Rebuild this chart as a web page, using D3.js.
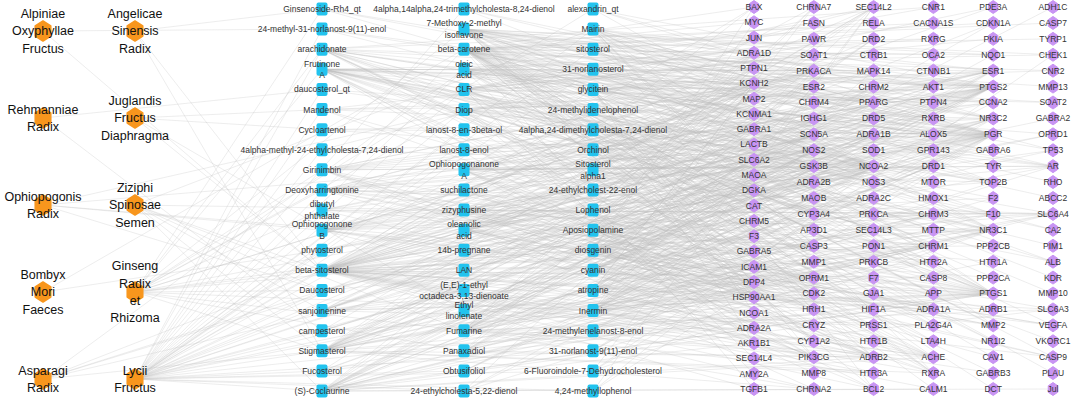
<!DOCTYPE html>
<html>
<head>
<meta charset="utf-8">
<script src="https://cdn.jsdelivr.net/npm/d3@7"></script>
<style>
  body { margin: 0; background: #fff; }
  text { font-family: Arial, "Liberation Sans", sans-serif; }
</style>
</head>
<body>
<div id="chart"></div>
<script>
// herbs, two columns
const herbsLeft = ["Alpiniae Oxyphyllae Fructus", "Rehmanniae Radix", "Ophiopogonis Radix", "Bombyx Mori Faeces", "Asparagi Radix"];
const herbsRight = ["Angelicae Sinensis Radix", "Juglandis Fructus Diaphragma", "Ziziphi Spinosae Semen", "Ginseng Radix et Rhizoma", "Lycii Fructus"];

// compounds, three columns
const compounds1 = ["Ginsenoside-Rh4_qt", "24-methyl-31-norlanost-9(11)-enol", "arachidonate", "Frutinone A", "daucosterol_qt",
  "Mandenol", "Cycloartenol", "4alpha-methyl-24-ethylcholesta-7,24-dienol", "Girinimbin", "Deoxyharringtonine",
  "dibutyl phthalate", "Ophiopogonone B", "phytosterol", "beta-sitosterol", "Daucosterol",
  "sanjoinenine", "campesterol", "Stigmasterol", "Fucosterol", "(S)-Coclaurine"];
const compounds2 = ["4alpha,14alpha,24-trimethylcholesta-8,24-dienol", "7-Methoxy-2-methyl isoflavone", "beta-carotene", "oleic acid", "CLR",
  "Diop", "lanost-8-en-3beta-ol", "lanost-8-enol", "Ophiopogonanone A", "suchilactone",
  "zizyphusine", "oleanolic acid", "14b-pregnane", "LAN", "(E,E)-1-ethyl octadeca-3,13-dienoate",
  "Ethyl linolenate", "Fumarine", "Panaxadiol", "Obtusifoliol", "24-ethylcholesta-5,22-dienol"];
const compounds3 = ["alexandrin_qt", "Mairin", "sitosterol", "31-norlanosterol", "glycitein",
  "24-methylidenelophenol", "4alpha,24-dimethylcholesta-7,24-dienol", "Orchinol", "Sitosterol alpha1", "24-ethylcholest-22-enol",
  "Lophenol", "Aposiopolamine", "diosgenin", "cyanin", "atropine",
  "Inermin", "24-methylenelanost-8-enol", "31-norlanost-9(11)-enol", "6-Fluoroindole-7-Dehydrocholesterol", "4,24-methyllophenol"];

// targets, six columns
const targets1 = ["BAX", "MYC", "JUN", "ADRA1D", "PTPN1", "KCNH2", "MAP2", "KCNMA1", "GABRA1", "LACTB", "SLC6A2", "MAOA", "DGKA",
  "CAT", "CHRM5", "F3", "GABRA5", "ICAM1", "DPP4", "HSP90AA1", "NCOA1", "ADRA2A", "AKR1B1", "SEC14L4", "AMY2A", "TGFB1"];
const targets2 = ["CHRNA7", "FASN", "PAWR", "SOAT1", "PRKACA", "ESR2", "CHRM4", "IGHG1", "SCN5A", "NOS2", "GSK3B", "ADRA2B",
  "MAOB", "CYP3A4", "AP3D1", "CASP3", "MMP1", "OPRM1", "CDK2", "HRH1", "CRYZ", "CYP1A2", "PIK3CG", "MMP8", "CHRNA2"];
const targets3 = ["SEC14L2", "RELA", "DRD2", "CTRB1", "MAPK14", "CHRM2", "PPARG", "DRD5", "ADRA1B", "SOD1", "NCOA2", "NOS3",
  "ADRA2C", "PRKCA", "SEC14L3", "PON1", "PRKCB", "F7", "GJA1", "HIF1A", "PRSS1", "HTR1B", "ADRB2", "HTR3A", "BCL2"];
const targets4 = ["CNR1", "CACNA1S", "RXRG", "OCA2", "CTNNB1", "AKT1", "PTPN4", "RXRB", "ALOX5", "GPR143", "DRD1", "MTOR",
  "HMOX1", "CHRM3", "MTTP", "CHRM1", "HTR2A", "CASP8", "APP", "ADRA1A", "PLA2G4A", "LTA4H", "ACHE", "RXRA", "CALM1"];
const targets5 = ["PDE3A", "CDKN1A", "PKIA", "NQO1", "ESR1", "PTGS2", "CCNA2", "NR3C2", "PGR", "GABRA6", "TYR", "TOP2B",
  "F2", "F10", "NR3C1", "PPP2CB", "HTR1A", "PPP2CA", "PTGS1", "ADRB1", "MMP2", "NR1I2", "CAV1", "GABRB3", "DCT"];
const targets6 = ["ADH1C", "CASP7", "TYRP1", "CHEK1", "CNR2", "MMP13", "SOAT2", "GABRA2", "OPRD1", "TP53", "AR", "RHO",
  "ABCC2", "SLC6A4", "CA2", "PIM1", "ALB", "KDR", "MMP10", "SLC6A3", "VEGFA", "VKORC1", "CASP9", "PLAU", "Jul"];

// herb -> compound links
const herbCompounds = [
  ["Alpiniae Oxyphyllae Fructus", "24-methyl-31-norlanost-9(11)-enol|beta-sitosterol"],
  ["Angelicae Sinensis Radix", "Ginsenoside-Rh4_qt|Stigmasterol|beta-sitosterol"],
  ["Rehmanniae Radix", "daucosterol_qt|campesterol"],
  ["Juglandis Fructus Diaphragma", "Mandenol|Cycloartenol|beta-sitosterol|Ethyl linolenate"],
  ["Ophiopogonis Radix", "Ophiopogonone B|Ophiopogonanone A|Daucosterol|diosgenin|Diop"],
  ["Ziziphi Spinosae Semen", "zizyphusine|sanjoinenine|Mairin|(S)-Coclaurine|Daucosterol|Stigmasterol|beta-sitosterol|Fumarine"],
  ["Bombyx Mori Faeces", "beta-carotene|phytosterol"],
  ["Ginseng Radix et Rhizoma", "Ginsenoside-Rh4_qt|Frutinone A|Girinimbin|Deoxyharringtonine|dibutyl phthalate|beta-sitosterol|Daucosterol|Stigmasterol|Panaxadiol|Fumarine|suchilactone|Inermin|alexandrin_qt|Aposiopolamine|diosgenin|Diop|arachidonate|oleanolic acid|7-Methoxy-2-methyl isoflavone|Orchinol"],
  ["Asparagi Radix", "diosgenin|beta-sitosterol|Stigmasterol|Daucosterol|14b-pregnane|oleic acid"],
  ["Lycii Fructus", "beta-sitosterol|Fucosterol|24-ethylcholest-22-enol|cyanin|atropine|Mandenol|Ethyl linolenate|Cycloartenol|lanost-8-en-3beta-ol|glycitein|Lophenol|sitosterol|Obtusifoliol|campesterol|Daucosterol|24-methylidenelophenol|31-norlanosterol|Stigmasterol|4alpha,14alpha,24-trimethylcholesta-8,24-dienol|4alpha-methyl-24-ethylcholesta-7,24-dienol|24-methyl-31-norlanost-9(11)-enol|24-ethylcholesta-5,22-dienol|LAN|Sitosterol alpha1|14b-pregnane|4,24-methyllophenol|31-norlanost-9(11)-enol|24-methylenelanost-8-enol|4alpha,24-dimethylcholesta-7,24-dienol|6-Fluoroindole-7-Dehydrocholesterol|Aposiopolamine|CLR|lanost-8-enol|beta-carotene|Mairin|(E,E)-1-ethyl octadeca-3,13-dienoate|arachidonate|oleic acid|daucosterol_qt|(S)-Coclaurine|Diop|phytosterol"]
];

// compound -> target links
const compoundTargets = [
  ["Ginsenoside-Rh4_qt", "PGR NCOA2 NR3C2"],
  ["24-methyl-31-norlanost-9(11)-enol", "PGR NCOA2 NR3C2"],
  ["arachidonate", "PTGS2 PTGS1 ALOX5 PLA2G4A LTA4H CNR1 CNR2 PPARG RXRA GABRA6 GABRB3 CACNA1S KCNMA1 HMOX1 CYP3A4 CHRM1 OPRM1 NOS3 ALB"],
  ["Frutinone A", "PTGS2 PTGS1 NOS2 ESR1 AR PGR PPARG KCNH2 NCOA2 ESR2 GSK3B CDK2 PIK3CG PRKACA CHEK1 CASP3 HSP90AA1 MAPK14 CCNA2 PIM1 TOP2B DPP4 F10 F2 ADRB2 CHRM1 NOS3 ACHE HTR2A CA2"],
  ["daucosterol_qt", "PGR NCOA2"],
  ["Mandenol", "PTGS2 PTGS1 PPARG ALOX5 SOAT1 PLA2G4A"],
  ["Cycloartenol", "PGR NCOA2 NR3C2"],
  ["4alpha-methyl-24-ethylcholesta-7,24-dienol", "PGR NCOA2 SEC14L2"],
  ["Girinimbin", "PTGS2 PTGS1 NOS2 KCNH2 SCN5A ESR1 PRKACA GSK3B CDK2 PIK3CG HSP90AA1 CCNA2 ADRB2 AR ACHE"],
  ["Deoxyharringtonine", "PTGS2 NOS2 KCNH2 SCN5A ADRA1A ADRA1B CHRM1 CHRM3 SLC6A4 SLC6A2 DRD1 HTR2A OPRM1 PRKACA ADRA2C CHRM2 HTR1B"],
  ["dibutyl phthalate", "PTGS2 PGR ESR1 NR3C1 CASP3 SLC6A4 ACHE"],
  ["Ophiopogonone B", "PTGS2 PTGS1 NOS2 ESR1 ESR2 AR PGR PPARG NCOA2 GSK3B CDK2 PIK3CG PRKACA HSP90AA1 CCNA2 TOP2B DPP4 F10 F2"],
  ["phytosterol", "PGR NCOA2 PTGS2 NR3C2"],
  ["beta-sitosterol", "BAX JUN ADRA1D PTPN1 KCNH2 MAP2 GABRA1 SLC6A2 MAOA CHRM5 F3 ICAM1 DPP4 HSP90AA1 NCOA1 ADRA2A TGFB1 CHRNA7 PRKACA ESR2 CHRM4 SCN5A NOS2 ADRA2B MAOB CASP3 OPRM1 HRH1 PIK3CG CHRNA2 DRD2 CHRM2 PPARG DRD5 ADRA1B PRKCA BCL2 ADRB2 HTR3A AKT1 CHRM3 CHRM1 HTR2A CASP8 ADRA1A CALM1 PTGS2 PGR PTGS1 ADRB1 GABRA6 GABRA2 OPRD1 CASP9 SLC6A4 SLC6A3 RXRA ACHE GABRB3 GABRA5"],
  ["Daucosterol", "PGR NCOA2 PTGS2 NR3C1"],
  ["sanjoinenine", "PTGS2 NOS2 PTGS1 KCNH2 ESR1 PRKACA CHRM1 ADRA1B SCN5A PRSS1 F10 GSK3B DPP4 HSP90AA1"],
  ["campesterol", "PGR NCOA2 PTGS1 NR3C2 SEC14L2"],
  ["Stigmasterol", "ADRA1D MAOA LACTB PRKACA ESR2 CHRM4 SCN5A ADRA2B MAOB CHRNA2 NCOA2 PGR NR3C2 NR3C1 ADRA2C ADRB2 PTGS1 PTGS2 KCNH2 ADRA2A CHRM2 CHRM1 CHRM3 HTR3A GABRA1 GABRA5 RXRA PON1 PRKCB"],
  ["Fucosterol", "PGR NCOA2 NR3C1 PTGS1 SOAT1"],
  ["(S)-Coclaurine", "PTGS2 PTGS1 NOS2 KCNH2 SCN5A ADRA1A ADRA1B ADRA1D ADRB2 CHRM1 CHRM2 CHRM3 CHRM5 SLC6A2 SLC6A4 SLC6A3 DRD1 DRD2 HTR2A HTR1A OPRM1 ACHE MAOA MAOB CALM1 Jul"],
  ["4alpha,14alpha,24-trimethylcholesta-8,24-dienol", "PGR NCOA2 NR3C2"],
  ["7-Methoxy-2-methyl isoflavone", "PTGS2 PTGS1 NOS2 ESR1 ESR2 AR PGR PPARG NCOA2 GSK3B CDK2 PIK3CG PRKACA CHEK1 HSP90AA1 MAPK14 CCNA2 DPP4 F10 KCNH2 ADRB2 SCN5A CHRM1 ACHE CYP3A4 CYP1A2 TOP2B MMP1 RXRA AKT1 NQO1"],
  ["beta-carotene", "PTGS2 PTGS1 NOS2 CASP3 BAX BCL2 TP53 MYC CDKN1A JUN RELA PPARG RXRA RXRB RXRG CAT SOD1 HMOX1 NQO1 VEGFA MMP2 MMP1 MMP13 MMP10 ICAM1 TGFB1 HIF1A CASP9 CASP7 CASP8 AKT1 CTNNB1 CYP1A2 ALB KDR PLAU GJA1 IGHG1 CALM1 NR3C1 TYR DCT TYRP1 OCA2 GPR143 RHO MTOR PPP2CA CAV1 APP"],
  ["oleic acid", "PTGS2 PTGS1 PPARG FASN SOAT1 SOAT2 ALOX5 PLA2G4A LTA4H CA2 NR1I2 ABCC2 MTTP CYP3A4 RXRA RXRB RXRG AKR1B1"],
  ["CLR", "SOAT1 SOAT2 SEC14L2 SEC14L3 SEC14L4 MTTP NR1I2 CYP3A4 CNR1 CNR2 LACTB PAWR CTRB1 AMY2A AP3D1 CRYZ CACNA1S OPRD1 PTPN4 PKIA"],
  ["Diop", "PTGS2 PGR AR ESR1 ACHE CHRM1 NR3C1 SLC6A4 TOP2B CYP1A2 CYP3A4 AKR1B1 DGKA MAP2 PTPN1"],
  ["lanost-8-en-3beta-ol", "PGR NCOA2 NR3C1"],
  ["lanost-8-enol", "PGR NCOA2 NR3C2"],
  ["Ophiopogonanone A", "PTGS2 PTGS1 NOS2 ESR1 ESR2 AR PGR NCOA2 GSK3B CDK2 PIK3CG PRKACA HSP90AA1 CCNA2 MAPK14 ADRB2 KCNH2 TOP2B F10 ACHE"],
  ["suchilactone", "PTGS2 PTGS1 NOS2 ESR1 PRKACA GSK3B CDK2 HSP90AA1 KCNH2 ADRB2 PDE3A"],
  ["zizyphusine", "PTGS2 PTGS1 NOS2 KCNH2 SCN5A ADRA1A ADRA1B ADRB2 CHRM1 CHRM3 SLC6A2 SLC6A4 DRD1 DPP4 PRSS1"],
  ["oleanolic acid", "PTGS2 PTGS1 NOS2 PGR NR3C1 NCOA2 RXRA PPARG BCL2 BAX CASP3 CASP9 MMP2 VEGFA AKT1 TP53 CDKN1A PRKCB GABRA1 PTPN1 DPP4"],
  ["14b-pregnane", "PGR NCOA2 NR3C1"],
  ["LAN", "PGR NCOA2 NR3C2"],
  ["(E,E)-1-ethyl octadeca-3,13-dienoate", "PTGS2 PTGS1 PPARG"],
  ["Ethyl linolenate", "PTGS2 PTGS1 PPARG PLA2G4A ADH1C"],
  ["Fumarine", "CHRM1 CHRM2 CHRM3 ADRA1A ADRA1B ADRA1D ADRA2A ADRA2C ADRB2 HTR2A HTR1B DRD1 DRD2 DRD5 OPRM1 SLC6A4 SLC6A2 SLC6A3 KCNH2 SCN5A PTGS2 ACHE CHRNA7 NOS2 HTR3A CHRNA2"],
  ["Panaxadiol", "PGR NCOA2 ESR1 NR3C1 PTGS2 PTGS1 GABRA1 KCNH2 CHRM1 NOS2 ADRB2 MMP1"],
  ["Obtusifoliol", "PGR NCOA2 NR3C2 PTGS1"],
  ["24-ethylcholesta-5,22-dienol", "PGR NCOA2 NR3C1 SEC14L2"],
  ["alexandrin_qt", "PGR NCOA2 NR3C2 PTGS2"],
  ["Mairin", "PTGS2 PTGS1 NCOA2 RXRA PGR ESR1 BCL2 CASP3 TP53 NR3C1 AKT1 MMP2 MMP1 ALOX5 TOP2B MTOR"],
  ["sitosterol", "PGR NCOA2 PTGS1 PTGS2 NR3C2 NR3C1"],
  ["31-norlanosterol", "PGR NCOA2 PTGS2 NR3C1"],
  ["glycitein", "PTGS2 PTGS1 NOS2 ESR1 ESR2 AR PGR NCOA2 GSK3B CDK2 PIK3CG PRKACA HSP90AA1 MAPK14 CCNA2 KCNH2 ADRB2 TOP2B AKR1B1 ALOX5 PDE3A NCOA1"],
  ["24-methylidenelophenol", "PGR NCOA2 NR3C2"],
  ["4alpha,24-dimethylcholesta-7,24-dienol", "PGR NCOA2 SEC14L2"],
  ["Orchinol", "PTGS2 PTGS1 NOS2 ESR1 KCNH2 ADRB2 PGR"],
  ["Sitosterol alpha1", "SEC14L2 PTPN1 ALB MTTP VKORC1 NR3C1 PGR"],
  ["24-ethylcholest-22-enol", "SEC14L2 NR3C2 PGR"],
  ["Lophenol", "SEC14L2 PTPN1 PGR NR3C2"],
  ["Aposiopolamine", "CHRM1 CHRM2 CHRM3 CHRM4 CHRM5 ADRA1A ADRA1B ADRA1D ADRA2A ADRA2C ADRB1 ADRB2 HTR2A HTR1A DRD1 DRD2 OPRM1 OPRD1 SLC6A4 SLC6A3 SLC6A2 PTGS2 KCNH2 ACHE CHRNA7 HRH1 SCN5A"],
  ["diosgenin", "PGR NCOA2 AR ESR1 PTGS2 PTGS1 CASP3 BAX BCL2 TP53 AKT1 MYC CDKN1A VEGFA MMP2 NR3C2 NR3C1 RXRA HSP90AA1 CASP9 PPP2CB PPP2CA CAV1 APP"],
  ["cyanin", "PTGS2 PTGS1 NOS2 ESR1 PRKACA GSK3B CDK2 PIK3CG HSP90AA1 ICAM1 SOD1 CAT NQO1 HMOX1 MMP2 VEGFA MMP8"],
  ["atropine", "CHRM1 CHRM2 CHRM3 CHRM4 CHRM5 ADRA1A ADRA1B ADRA2A ADRB2 HTR2A DRD1 OPRM1 SLC6A4 SLC6A2 PTGS2 KCNH2 ACHE CHRNA7 CHRNA2 HRH1 GABRA1 SCN5A HTR3A"],
  ["Inermin", "PTGS2 PTGS1 NOS2 ESR1 ESR2 AR PGR PPARG NCOA2 GSK3B CDK2 PIK3CG PRKACA HSP90AA1 MAPK14 CCNA2 KCNH2 ADRB2 ADRA1B TOP2B DPP4 F10 F7 F2 ACHE NCOA1"],
  ["24-methylenelanost-8-enol", "PGR NCOA2 NR3C1"],
  ["31-norlanost-9(11)-enol", "PGR NCOA2 NR3C2"],
  ["6-Fluoroindole-7-Dehydrocholesterol", "PGR NR3C1 CHEK1 SEC14L2"],
  ["4,24-methyllophenol", "PGR NCOA2 SEC14L2"]
];

const W = 1072, H = 403;
const svg = d3.select("#chart").append("svg")
  .attr("width", W).attr("height", H);

// column positions
const herbX = d3.scalePoint().domain([0, 1]).range([43, 135]);
const herbY = d3.scalePoint().domain(d3.range(5)).range([31, 379]);
const compX = d3.scaleOrdinal().domain([0, 1, 2]).range([322, 464, 593]);
const compY = d3.scalePoint().domain(d3.range(20)).range([9, 391]);
const targX = d3.scalePoint().domain(d3.range(6)).range([754, 1053]);

const pos = new Map();
const herbNodes = [], compNodes = [], targNodes = [];
[herbsLeft, herbsRight].forEach((col, c) => col.forEach((name, i) => {
  const n = {name, x: herbX(c), y: herbY(i)};
  herbNodes.push(n); pos.set(name, n);
}));
[compounds1, compounds2, compounds3].forEach((col, c) => col.forEach((name, i) => {
  const n = {name, x: compX(c), y: compY(i)};
  compNodes.push(n); pos.set(name, n);
}));
[targets1, targets2, targets3, targets4, targets5, targets6].forEach((col, c) => {
  const ty = d3.scalePoint().domain(d3.range(col.length)).range([7, 389]);
  col.forEach((name, i) => {
    const n = {name, x: targX(c), y: ty(i)};
    targNodes.push(n); pos.set(name, n);
  });
});

const links = [];
herbCompounds.forEach(([h, list]) => list.split("|").forEach(c => {
  if (pos.has(c)) links.push([pos.get(h), pos.get(c)]);
}));
compoundTargets.forEach(([c, list]) => list.split(" ").forEach(t => {
  if (pos.has(t)) links.push([pos.get(c), pos.get(t)]);
}));

svg.append("g")
  .selectAll("line")
  .data(links)
  .enter().append("line")
  .attr("x1", d => d[0].x).attr("y1", d => d[0].y)
  .attr("x2", d => d[1].x).attr("y2", d => d[1].y)
  .attr("stroke", "#bdbdbd")
  .attr("stroke-width", 0.5)
  .attr("stroke-opacity", 0.55);

// hexagon path, pointy top
function hexPath(rx, ry) {
  const pts = d3.range(6).map(k => {
    const a = Math.PI / 3 * k - Math.PI / 2;
    return [rx * Math.cos(a), ry * Math.sin(a)];
  });
  return "M" + pts.map(p => p.join(",")).join("L") + "Z";
}

// nodes
svg.append("g").selectAll("path")
  .data(herbNodes).enter().append("path")
  .attr("d", hexPath(9, 10))
  .attr("transform", d => `translate(${d.x},${d.y})`)
  .attr("fill", "#f8961d")
  .attr("stroke", "#f8961d").attr("stroke-width", 1.5).attr("stroke-linejoin", "round");

svg.append("g").selectAll("rect")
  .data(compNodes).enter().append("rect")
  .attr("x", d => d.x - 5.5).attr("y", d => d.y - 6.5)
  .attr("width", 11).attr("height", 13).attr("rx", 2)
  .attr("fill", "#22c3ee");

svg.append("g").selectAll("path")
  .data(targNodes).enter().append("path")
  .attr("d", hexPath(5.5, 6.5))
  .attr("transform", d => `translate(${d.x},${d.y})`)
  .attr("fill", "#c894f3")
  .attr("stroke", "#c894f3").attr("stroke-width", 1).attr("stroke-linejoin", "round");

// labels, split at spaces into centred lines
function multiLabel(sel, nodes, size, lineH, color) {
  const t = sel.selectAll("text").data(nodes).enter().append("text")
    .attr("text-anchor", "middle")
    .attr("font-size", size)
    .attr("fill", color);
  t.each(function (d) {
    const words = d.name.split(" ");
    const y0 = d.y - (words.length - 1) * lineH / 2;
    d3.select(this).selectAll("tspan").data(words).enter().append("tspan")
      .attr("x", d.x)
      .attr("y", (w, i) => y0 + i * lineH)
      .attr("dy", "0.35em")
      .text(w => w);
  });
}

multiLabel(svg.append("g"), herbNodes, "12.5px", 17.3, "#111");
multiLabel(svg.append("g"), compNodes, "8.5px", 11.5, "#333");
multiLabel(svg.append("g"), targNodes, "8.5px", 11.5, "#333");
</script>
</body>
</html>
